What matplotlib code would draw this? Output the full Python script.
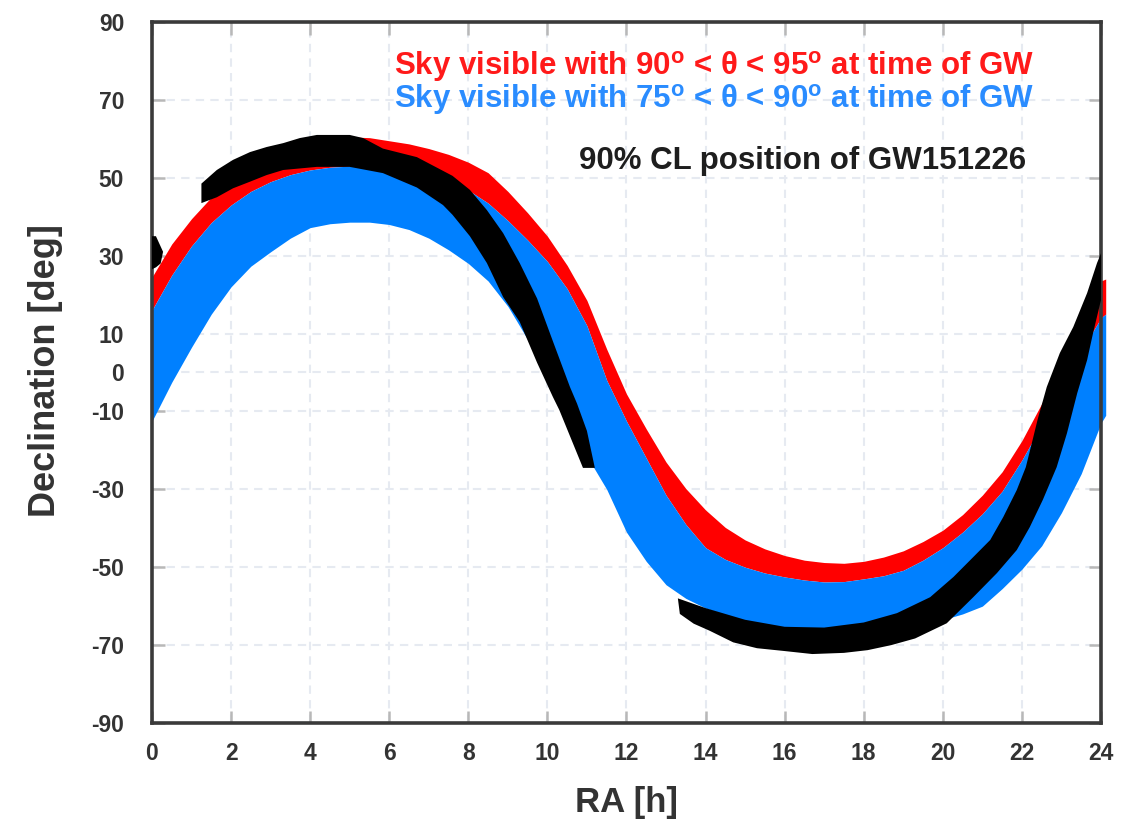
import matplotlib
matplotlib.use("Agg")
import matplotlib.pyplot as plt

plt.rcParams['font.family'] = ['Liberation Sans', 'DejaVu Sans']
plt.rcParams['font.weight'] = 'bold'
plt.rcParams['axes.labelweight'] = 'bold'
plt.rcParams['axes.unicode_minus'] = False
plt.rcParams['mathtext.fontset'] = 'custom'
plt.rcParams['mathtext.rm'] = 'Liberation Sans:bold'
plt.rcParams['mathtext.it'] = 'Liberation Sans:bold'
plt.rcParams['mathtext.bf'] = 'Liberation Sans:bold'

# sky band edges (RA in hours, Dec in degrees)
ra_hours = [0, 0.5, 1, 1.5, 2, 2.5, 3, 3.5, 4, 4.5, 5, 5.5, 6, 6.5, 7, 7.5,
            8, 8.5, 9, 9.5, 10, 10.5, 11, 11.5, 12, 12.5, 13, 13.5, 14, 14.5,
            15, 15.5, 16, 16.5, 17, 17.5, 18, 18.5, 19, 19.5, 20, 20.5, 21,
            21.5, 22, 22.5, 23, 23.5, 24, 24.12]
dec_theta95 = [24.5, 33, 39.5, 45, 49.5, 52.8, 55.5, 57.5, 59, 60, 60.5, 60.3,
               59.5, 58.7, 57.5, 56, 54, 51.3, 46.5, 41, 35, 27.5, 18.5, 6,
               -5.5, -14.5, -23, -29.8, -35.3, -39.8, -43, -45.3, -47, -48.2,
               -48.8, -49, -48.5, -47.4, -45.8, -43.4, -40.5, -36.5, -31.5,
               -25.5, -17.5, -8, 2.5, 13, 23.5, 24]
dec_theta90 = [16, 25, 32.5, 38.5, 43, 46.5, 49, 50.8, 52, 52.7, 53, 53,
               52.5, 51.7, 50.5, 48.8, 46.8, 43.5, 39, 34, 28.5, 21.5, 12, -2,
               -12.5, -22, -31.5, -39, -45, -48, -50, -51.5, -52.5, -53.3,
               -53.8, -53.7, -53, -52.2, -50.8, -48.2, -45, -41, -36.3, -30.5,
               -22.5, -13.5, -3.5, 5.5, 14, 15]
dec_theta75 = [-12.5, -2.5, 6.5, 15, 22, 27.3, 31, 34.5, 37.2, 38.2, 38.6,
               38.6, 38, 36.7, 34.5, 31.5, 28, 23.5, 17, 8.5, -1, -10.5, -21.5,
               -30, -41, -48.5, -54.5, -58, -60.5, -62.3, -63.7, -64.7, -65.5,
               -66.1, -66.5, -66.7, -66.5, -66.2, -65.5, -64.6, -63.5, -62,
               -60, -55.5, -50.5, -44.5, -36, -26, -13, -11]

# GW151226 90% CL region, outline points
gw_north_ra = [1.25, 1.64, 2.05, 2.48, 2.9, 3.32, 3.74, 4.17, 5.0, 5.34, 5.84,
               6.7, 7.6, 8.04, 8.47, 8.88, 9.3, 9.74, 10.14, 10.57, 10.75, 11.0,
               11.2, 10.9, 10.3, 10.14, 9.74, 9.3, 8.88, 8.47, 8.04, 7.6, 7.36,
               6.7, 5.84, 5.0, 4.17, 3.32, 2.9, 2.48, 2.05, 1.64, 1.25]
gw_north_dec = [48.5, 52, 54.6, 56.6, 57.9, 58.9, 60.2, 61, 61, 60.2, 57.5,
                55.3, 50.5, 46.9, 41.7, 35.8, 28.1, 19, 8, -3.7, -8, -15,
                -24.5, -24.5, -9.6, -6.3, 2.5, 13, 19.4, 28.1, 35, 40.5, 43,
                47.5, 51.2, 52.8, 52.8, 52, 50.7, 49, 47.3, 45, 43.5]
gw_south_ra = [13.3, 13.35, 13.7, 14.1, 14.7, 15.3, 15.97, 16.7, 17.5, 18.1,
               18.7, 19.3, 20.1, 20.77, 21.37, 21.87, 22.2, 22.53, 22.88, 23.14,
               23.4, 23.65, 23.8, 24.0, 24.0, 23.9, 23.65, 23.3, 22.96, 22.63,
               22.4, 22.25, 22.1, 21.87, 21.53, 21.2, 20.77, 20.27, 19.68,
               18.84, 18.0, 17.0, 16.0, 15.0, 14.0]
gw_south_dec = [-58, -62, -64.5, -66.3, -69.3, -70.8, -71.5, -72.3, -72, -71.3,
                -70, -68.3, -64.4, -57.7, -51.5, -45.6, -39.7, -32.7, -24.3,
                -15.6, -5.3, 3.2, 10.1, 18.6, 30.6, 28.1, 20.4, 11.7, 5, -3.7,
                -12, -18.2, -24.3, -30.2, -37.1, -43, -47.4, -52.5, -57.7,
                -61.8, -64.2, -65.5, -65.3, -63.5, -60.5]
gw_wrap_ra = [0, 0, 0.1, 0.28, 0.22, 0.1]
gw_wrap_dec = [26.5, 35, 35, 31, 28, 27]

ra_ticks = list(range(0, 25, 2))
dec_ticks = [-90, -70, -50, -30, -10, 0, 10, 30, 50, 70, 90]

fig = plt.figure(figsize=(11.3, 8.21), dpi=100)
ax = fig.add_axes([0.1345, 0.1194, 0.8398, 0.8538])

ax.fill_between(ra_hours, dec_theta90, dec_theta95, color='#ff0000', lw=0,
                zorder=2, clip_on=False)
ax.fill_between(ra_hours, dec_theta75, dec_theta90, color='#0080ff', lw=0,
                zorder=2, clip_on=False)
ax.fill(gw_north_ra, gw_north_dec, color='black', lw=0, zorder=3)
ax.fill(gw_south_ra, gw_south_dec, color='black', lw=0, zorder=3)
ax.fill(gw_wrap_ra, gw_wrap_dec, color='black', lw=0, zorder=3)

ax.set_xlim(0, 24)
ax.set_ylim(-90, 90)
ax.set_xticks(ra_ticks)
ax.set_yticks(dec_ticks)
ax.set_axisbelow(True)
ax.grid(True, color='#e6eaf1', lw=1.5, ls=(0, (4, 3)))
ax.tick_params(direction='in', length=9, width=1.8, color='#b8b8b8',
               top=True, right=True, labelsize=16.5, labelcolor='#333333')
ax.tick_params(axis='x', pad=14)
ax.tick_params(axis='y', pad=20)
for s in ax.spines.values():
    s.set_linewidth(2.6)
    s.set_color('#3a3a3a')

ax.set_xlabel('RA [h]', fontsize=25, color='#333333')
ax.set_ylabel('Declination [deg]', fontsize=26, color='#333333')
ax.xaxis.set_label_coords(0.5, -0.09)
ax.yaxis.set_label_coords(-0.094, 0.503)

ax.text(0.93, 0.936, r'Sky visible with 90$^o$ < θ < 95$^o$ at time of GW',
        transform=ax.transAxes, ha='right', va='center', fontsize=22.5,
        color='#ff1a1a')
ax.text(0.93, 0.889, r'Sky visible with 75$^o$ < θ < 90$^o$ at time of GW',
        transform=ax.transAxes, ha='right', va='center', fontsize=22.5,
        color='#2a8cff')
ax.text(0.921, 0.801, '90% CL position of GW151226', transform=ax.transAxes,
        ha='right', va='center', fontsize=22.5, color='#1e1e1e')

fig.savefig('out.png', dpi=100)
